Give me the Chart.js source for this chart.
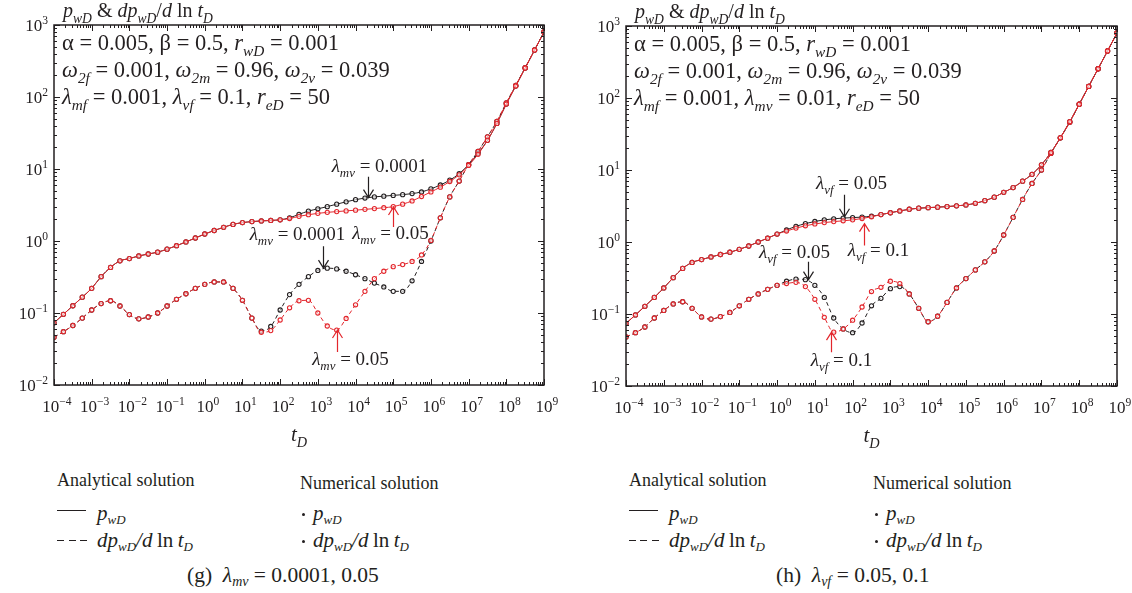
<!DOCTYPE html>
<html>
<head>
<meta charset="utf-8">
<script src="https://cdn.jsdelivr.net/npm/chart.js@4.4.1/dist/chart.umd.min.js"></script>
<style>
    body { margin: 0; background: #fff; width: 1132px; height: 593px; position: relative; overflow: hidden;
           font-family: "Liberation Serif", "DejaVu Serif", serif; color: #231f20; }
    canvas { position: absolute; top: 0; }
    #chartG { left: 0; }
    #chartH { left: 566px; }
    .lg { position: absolute; font-size: 18px; line-height: 20px; white-space: nowrap; }
    .m { font-size: 21px; font-style: italic; }
    .lg sub { font-size: 13px; font-style: italic; vertical-align: -4px; line-height: 0; }
    .cap { font-size: 21.5px; }
    .cap sub { font-size: 14px; }
    .solid, .dash, .dot { position: absolute; }
    .solid { width: 29px; height: 1.3px; background: #231f20; }
    .dash { width: 30px; height: 1.3px; background: repeating-linear-gradient(to right, #231f20 0 7px, transparent 7px 11.5px); }
    .dot { width: 3px; height: 3px; border-radius: 2px; background: #231f20; }
</style>
</head>
<body>
<canvas id="chartG" width="566" height="450"></canvas>
<canvas id="chartH" width="566" height="450"></canvas>

<div class="lg" style="left:57px;top:470px">Analytical solution</div>
<div class="lg" style="left:300px;top:473px">Numerical solution</div>
<div class="solid" style="left:57px;top:510px"></div>
<div class="dash" style="left:57px;top:540px"></div>
<div class="lg" style="left:97px;top:503px"><span class="m">p</span><sub>wD</sub></div>
<div class="lg" style="left:97px;top:530px"><span class="m">dp</span><sub>wD</sub><span class="m">/d</span> <span style="font-size:21px">ln</span> <span class="m">t</span><sub>D</sub></div>
<div class="dot" style="left:302px;top:513px"></div>
<div class="dot" style="left:302px;top:540px"></div>
<div class="lg" style="left:313px;top:503px"><span class="m">p</span><sub>wD</sub></div>
<div class="lg" style="left:313px;top:530px"><span class="m">dp</span><sub>wD</sub><span class="m">/d</span> <span style="font-size:21px">ln</span> <span class="m">t</span><sub>D</sub></div>
<div class="lg cap" style="left:187px;top:565px">(g)&nbsp; <i>λ</i><sub>mv</sub> = 0.0001, 0.05</div>

<div class="lg" style="left:629px;top:470px">Analytical solution</div>
<div class="lg" style="left:873px;top:473px">Numerical solution</div>
<div class="solid" style="left:629px;top:510px"></div>
<div class="dash" style="left:629px;top:540px"></div>
<div class="lg" style="left:669px;top:503px"><span class="m">p</span><sub>wD</sub></div>
<div class="lg" style="left:669px;top:530px"><span class="m">dp</span><sub>wD</sub><span class="m">/d</span> <span style="font-size:21px">ln</span> <span class="m">t</span><sub>D</sub></div>
<div class="dot" style="left:875px;top:513px"></div>
<div class="dot" style="left:875px;top:540px"></div>
<div class="lg" style="left:886px;top:503px"><span class="m">p</span><sub>wD</sub></div>
<div class="lg" style="left:886px;top:530px"><span class="m">dp</span><sub>wD</sub><span class="m">/d</span> <span style="font-size:21px">ln</span> <span class="m">t</span><sub>D</sub></div>
<div class="lg cap" style="left:776px;top:565px">(h)&nbsp; <i>λ</i><sub>vf</sub> = 0.05, 0.1</div>

<script>
// log10 of dimensionless time, one entry per sample
const tExp = [-4, -3.75, -3.5, -3.25, -3, -2.75, -2.5, -2.25, -2, -1.75, -1.5, -1.25, -1, -0.75, -0.5, -0.25,
    0, 0.25, 0.5, 0.75, 1, 1.25, 1.5, 1.75, 2, 2.25, 2.5, 2.75, 3, 3.25, 3.5, 3.75,
    4, 4.25, 4.5, 4.75, 5, 5.25, 5.5, 5.75, 6, 6.25, 6.5, 6.75, 7, 7.25, 7.5, 7.75,
    8, 8.25, 8.5, 8.75, 9];

const xDecades = [-4, -3, -2, -1, 0, 1, 2, 3, 4, 5, 6, 7, 8, 9];
const yDecades = [-2, -1, 0, 1, 2, 3];

// (g) lambda_mv = 0.0001 (black) and 0.05 (red)
const gPBlack = [0.073, 0.096, 0.126, 0.166, 0.22, 0.32, 0.43, 0.53, 0.57, 0.62, 0.66, 0.70, 0.77, 0.86, 0.97, 1.1,
    1.25, 1.4, 1.55, 1.7, 1.8, 1.86, 1.9, 1.93, 1.97, 2.1, 2.35, 2.6, 2.8, 3.0, 3.25, 3.5,
    3.75, 3.95, 4.1, 4.2, 4.3, 4.4, 4.55, 4.8, 5.3, 6.0, 7.0, 8.6, 11.5, 16.5, 25, 43,
    80, 142, 252, 448, 800];
const gPRed = [0.073, 0.096, 0.126, 0.166, 0.22, 0.32, 0.43, 0.53, 0.57, 0.62, 0.66, 0.70, 0.77, 0.86, 0.97, 1.1,
    1.25, 1.4, 1.55, 1.7, 1.8, 1.86, 1.9, 1.93, 1.97, 2.05, 2.2, 2.32, 2.42, 2.5, 2.56, 2.62,
    2.68, 2.75, 2.82, 2.9, 3.0, 3.25, 3.6, 4.15, 4.8, 5.6, 6.7, 8.3, 11.2, 16, 25, 43,
    80, 142, 252, 448, 800];
const gDpBlack = [0.046, 0.055, 0.067, 0.085, 0.11, 0.135, 0.148, 0.125, 0.095, 0.083, 0.088, 0.1, 0.125, 0.155, 0.185, 0.22,
    0.25, 0.27, 0.27, 0.22, 0.15, 0.085, 0.056, 0.065, 0.11, 0.18, 0.25, 0.32, 0.39, 0.42, 0.41, 0.38,
    0.34, 0.3, 0.26, 0.23, 0.2, 0.2, 0.28, 0.52, 1.0, 2.1, 4.1, 6.8, 11.5, 17.5, 28, 46,
    83, 145, 255, 450, 800];
const gDpRed = [0.046, 0.055, 0.067, 0.085, 0.11, 0.135, 0.148, 0.125, 0.095, 0.083, 0.088, 0.1, 0.125, 0.155, 0.185, 0.22,
    0.25, 0.27, 0.27, 0.22, 0.15, 0.085, 0.054, 0.057, 0.08, 0.118, 0.148, 0.15, 0.1, 0.066, 0.058, 0.084,
    0.13, 0.2, 0.3, 0.38, 0.44, 0.47, 0.52, 0.64, 1.02, 2.1, 4.1, 6.8, 11.5, 17.5, 28, 46,
    83, 145, 255, 450, 800];

// (h) lambda_vf = 0.05 (black) and 0.1 (red)
const hPBlack = [0.074, 0.097, 0.128, 0.17, 0.23, 0.32, 0.43, 0.52, 0.57, 0.62, 0.67, 0.72, 0.79, 0.88, 1.0, 1.13,
    1.29, 1.47, 1.65, 1.8, 1.93, 2.03, 2.1, 2.15, 2.18, 2.22, 2.28, 2.4, 2.55, 2.7, 2.85, 2.95,
    3.0, 3.05, 3.1, 3.18, 3.27, 3.45, 3.75, 4.2, 4.9, 5.7, 7.0, 8.7, 11.8, 17.5, 28, 47,
    82, 145, 255, 450, 800];
const hPRed = [0.074, 0.097, 0.128, 0.17, 0.23, 0.32, 0.43, 0.52, 0.57, 0.62, 0.67, 0.72, 0.79, 0.88, 1.0, 1.13,
    1.29, 1.42, 1.56, 1.68, 1.78, 1.86, 1.92, 1.97, 2.03, 2.12, 2.24, 2.4, 2.55, 2.7, 2.85, 2.95,
    3.0, 3.05, 3.1, 3.18, 3.27, 3.45, 3.75, 4.2, 4.9, 5.7, 7.0, 8.7, 11.8, 17.5, 28, 47,
    82, 145, 255, 450, 800];
const hDpBlack = [0.048, 0.055, 0.066, 0.088, 0.112, 0.138, 0.148, 0.12, 0.091, 0.085, 0.092, 0.105, 0.13, 0.16, 0.19, 0.22,
    0.25, 0.285, 0.305, 0.3, 0.25, 0.17, 0.088, 0.062, 0.055, 0.075, 0.13, 0.165, 0.225, 0.24, 0.19, 0.12,
    0.078, 0.093, 0.145, 0.23, 0.31, 0.41, 0.53, 0.75, 1.25, 2.2, 3.9, 6.5, 10, 17, 28, 46,
    82, 145, 255, 450, 800];
const hDpRed = [0.048, 0.055, 0.066, 0.088, 0.112, 0.138, 0.148, 0.12, 0.091, 0.085, 0.092, 0.105, 0.13, 0.16, 0.19, 0.22,
    0.25, 0.265, 0.275, 0.24, 0.16, 0.09, 0.056, 0.062, 0.082, 0.125, 0.205, 0.235, 0.285, 0.265, 0.19, 0.12,
    0.078, 0.093, 0.145, 0.23, 0.31, 0.41, 0.53, 0.75, 1.25, 2.2, 3.9, 6.5, 10, 17, 28, 46,
    82, 145, 255, 450, 800];

const SERIF = '"Liberation Serif", "DejaVu Serif", serif';
const INK = '#231f20';
const RED = '#e3262c';

function toPoints(vals) {
    return vals.map((v, i) => ({ x: Math.pow(10, tExp[i]), y: v }));
}

function curve(vals, color, dashed, order) {
    return {
        data: toPoints(vals),
        order: order,
        borderColor: color,
        backgroundColor: color,
        borderWidth: 1,
        borderDash: dashed ? [4, 3] : [],
        cubicInterpolationMode: 'monotone',
        pointRadius: 2.1,
        pointBorderWidth: 1.1,
        pointBorderColor: color,
        pointBackgroundColor: 'rgba(255,255,255,0.55)'
    };
}

// text made of runs: 'n' roman, 'i' italic, 's' italic subscript, 'u' superscript
function rich(ctx, parts, x, y, size, align) {
    const runs = parts.map(([t, st]) => {
        const small = st === 's' || st === 'u';
        const fs = small ? size * 0.68 : size;
        const font = (st === 'i' || st === 's' ? 'italic ' : '') + fs + 'px ' + SERIF;
        ctx.font = font;
        const dy = st === 's' ? size * 0.28 : st === 'u' ? -size * 0.42 : 0;
        return { t, font, dy, w: ctx.measureText(t).width };
    });
    const total = runs.reduce((a, r) => a + r.w, 0);
    let cx = align === 'center' ? x - total / 2 : align === 'right' ? x - total : x;
    ctx.textAlign = 'left';
    ctx.textBaseline = 'alphabetic';
    runs.forEach(r => {
        ctx.font = r.font;
        ctx.fillText(r.t, cx, y + r.dy);
        cx += r.w;
    });
}

function pow10(e) {
    return [['10', 'n'], [String(e).replace('-', '\u2212'), 'u']];
}

const frame = {
    id: 'frame',
    afterDraw(chart, args, opts) {
        const { ctx, chartArea: a, scales: { x, y } } = chart;
        ctx.save();
        ctx.strokeStyle = INK;
        ctx.fillStyle = INK;
        ctx.lineWidth = 1;

        // inward ticks on all four sides
        ctx.beginPath();
        xDecades.forEach(d => {
            for (let m = 1; m < 10; m++) {
                if (d === xDecades[xDecades.length - 1] && m > 1) break;
                const px = Math.round(x.getPixelForValue(m * Math.pow(10, d))) + 0.5;
                const len = m === 1 ? 6 : 3;
                ctx.moveTo(px, a.bottom); ctx.lineTo(px, a.bottom - len);
                ctx.moveTo(px, a.top); ctx.lineTo(px, a.top + len);
            }
        });
        yDecades.forEach(d => {
            for (let m = 1; m < 10; m++) {
                if (d === yDecades[yDecades.length - 1] && m > 1) break;
                const py = Math.round(y.getPixelForValue(m * Math.pow(10, d))) + 0.5;
                const len = m === 1 ? 6 : 3;
                ctx.moveTo(a.left, py); ctx.lineTo(a.left + len, py);
                ctx.moveTo(a.right, py); ctx.lineTo(a.right - len, py);
            }
        });
        ctx.stroke();

        ctx.lineWidth = 1.5;
        ctx.strokeRect(a.left, a.top, a.right - a.left, a.bottom - a.top);

        // tick labels
        xDecades.forEach(d => rich(ctx, pow10(d), x.getPixelForValue(Math.pow(10, d)) + 3, a.bottom + 27, 17, 'center'));
        yDecades.forEach(d => rich(ctx, pow10(d), a.left - 6, y.getPixelForValue(Math.pow(10, d)) + 6, 17, 'right'));

        // axis titles
        rich(ctx, [['t', 'i'], ['D', 's']], (a.left + a.right) / 2, a.bottom + 56, 21, 'center');
        rich(ctx, [['p', 'i'], ['wD', 's'], [' & ', 'n'], ['dp', 'i'], ['wD', 's'], ['/', 'n'], ['d', 'i'], [' ln ', 'n'], ['t', 'i'], ['D', 's']],
            a.left + 9, a.top - 8, 20, 'left');

        // parameter block
        opts.params.forEach((line, i) => rich(ctx, line, a.left + 8, a.top + 25 + i * 27, 22.5, 'left'));

        // arrows with labels, tips given in data coordinates
        opts.notes.forEach(n => {
            const px = Math.round(x.getPixelForValue(n.t)) + 0.5;
            const py = y.getPixelForValue(n.v);
            const tail = py - n.dir * n.len;
            ctx.strokeStyle = n.color;
            ctx.lineWidth = 1.2;
            ctx.beginPath();
            ctx.moveTo(px, tail); ctx.lineTo(px, py);
            ctx.moveTo(px - 5, py - n.dir * 8); ctx.lineTo(px, py); ctx.lineTo(px + 5, py - n.dir * 8);
            ctx.stroke();
            ctx.fillStyle = INK;
            rich(ctx, n.label, px + n.dx, tail + n.dy, 19, 'center');
        });
        ctx.restore();
    }
};

function lam(sub, val) {
    return [['λ', 'i'], [sub, 's'], [' = ' + val, 'n']];
}

function makeChart(id, pad, series, params, notes) {
    return new Chart(document.getElementById(id), {
        type: 'line',
        data: {
            datasets: [
                curve(series[0], INK, false, 1),
                curve(series[1], INK, true, 1),
                curve(series[2], RED, false, 0),
                curve(series[3], RED, true, 0)
            ]
        },
        options: {
            responsive: false,
            animation: false,
            events: [],
            layout: { padding: pad },
            scales: {
                x: { type: 'logarithmic', min: 1e-4, max: 1e9, display: false },
                y: { type: 'logarithmic', min: 1e-2, max: 1e3, display: false }
            },
            plugins: {
                legend: { display: false },
                tooltip: { enabled: false },
                frame: { params: params, notes: notes }
            }
        },
        plugins: [frame]
    });
}

const paramTop = [['α = 0.005, β = 0.5, ', 'n'], ['r', 'i'], ['wD', 's'], [' = 0.001', 'n']];
const paramOmega = [['ω', 'i'], ['2f', 's'], [' = 0.001, ', 'n'], ['ω', 'i'], ['2m', 's'], [' = 0.96, ', 'n'], ['ω', 'i'], ['2v', 's'], [' = 0.039', 'n']];

makeChart('chartG', { left: 54, top: 25, right: 22, bottom: 65 },
    [gPBlack, gDpBlack, gPRed, gDpRed],
    [paramTop, paramOmega,
        [['λ', 'i'], ['mf', 's'], [' = 0.001, ', 'n'], ['λ', 'i'], ['vf', 's'], [' = 0.1, ', 'n'], ['r', 'i'], ['eD', 's'], [' = 50', 'n']]],
    [
        { t: 2.1e4, v: 4.0, dir: 1, len: 21, color: INK, label: lam('mv', '0.0001'), dx: 11, dy: -5 },
        { t: 1e5, v: 2.97, dir: -1, len: 20, color: RED, label: lam('mv', '0.05'), dx: -3, dy: 12 },
        { t: 1.36e3, v: 0.42, dir: 1, len: 22, color: INK, label: lam('mv', '0.0001'), dx: -26, dy: -6 },
        { t: 3.16e3, v: 0.058, dir: -1, len: 22, color: RED, label: lam('mv', '0.05'), dx: 13, dy: 13 }
    ]);

makeChart('chartH', { left: 60, top: 26, right: 15, bottom: 64 },
    [hPBlack, hDpBlack, hPRed, hDpRed],
    [paramTop, paramOmega,
        [['λ', 'i'], ['mf', 's'], [' = 0.001, ', 'n'], ['λ', 'i'], ['mv', 's'], [' = 0.01, ', 'n'], ['r', 'i'], ['eD', 's'], [' = 50', 'n']]],
    [
        { t: 59, v: 2.24, dir: 1, len: 22, color: INK, label: lam('vf', '0.05'), dx: 7, dy: -6 },
        { t: 200, v: 1.8, dir: -1, len: 22, color: RED, label: lam('vf', '0.1'), dx: 14, dy: 10 },
        { t: 6.6, v: 0.30, dir: 1, len: 18, color: INK, label: lam('vf', '0.05'), dx: -14, dy: -4 },
        { t: 27, v: 0.056, dir: -1, len: 20, color: RED, label: lam('vf', '0.1'), dx: 10, dy: 14 }
    ]);
</script>
</body>
</html>
